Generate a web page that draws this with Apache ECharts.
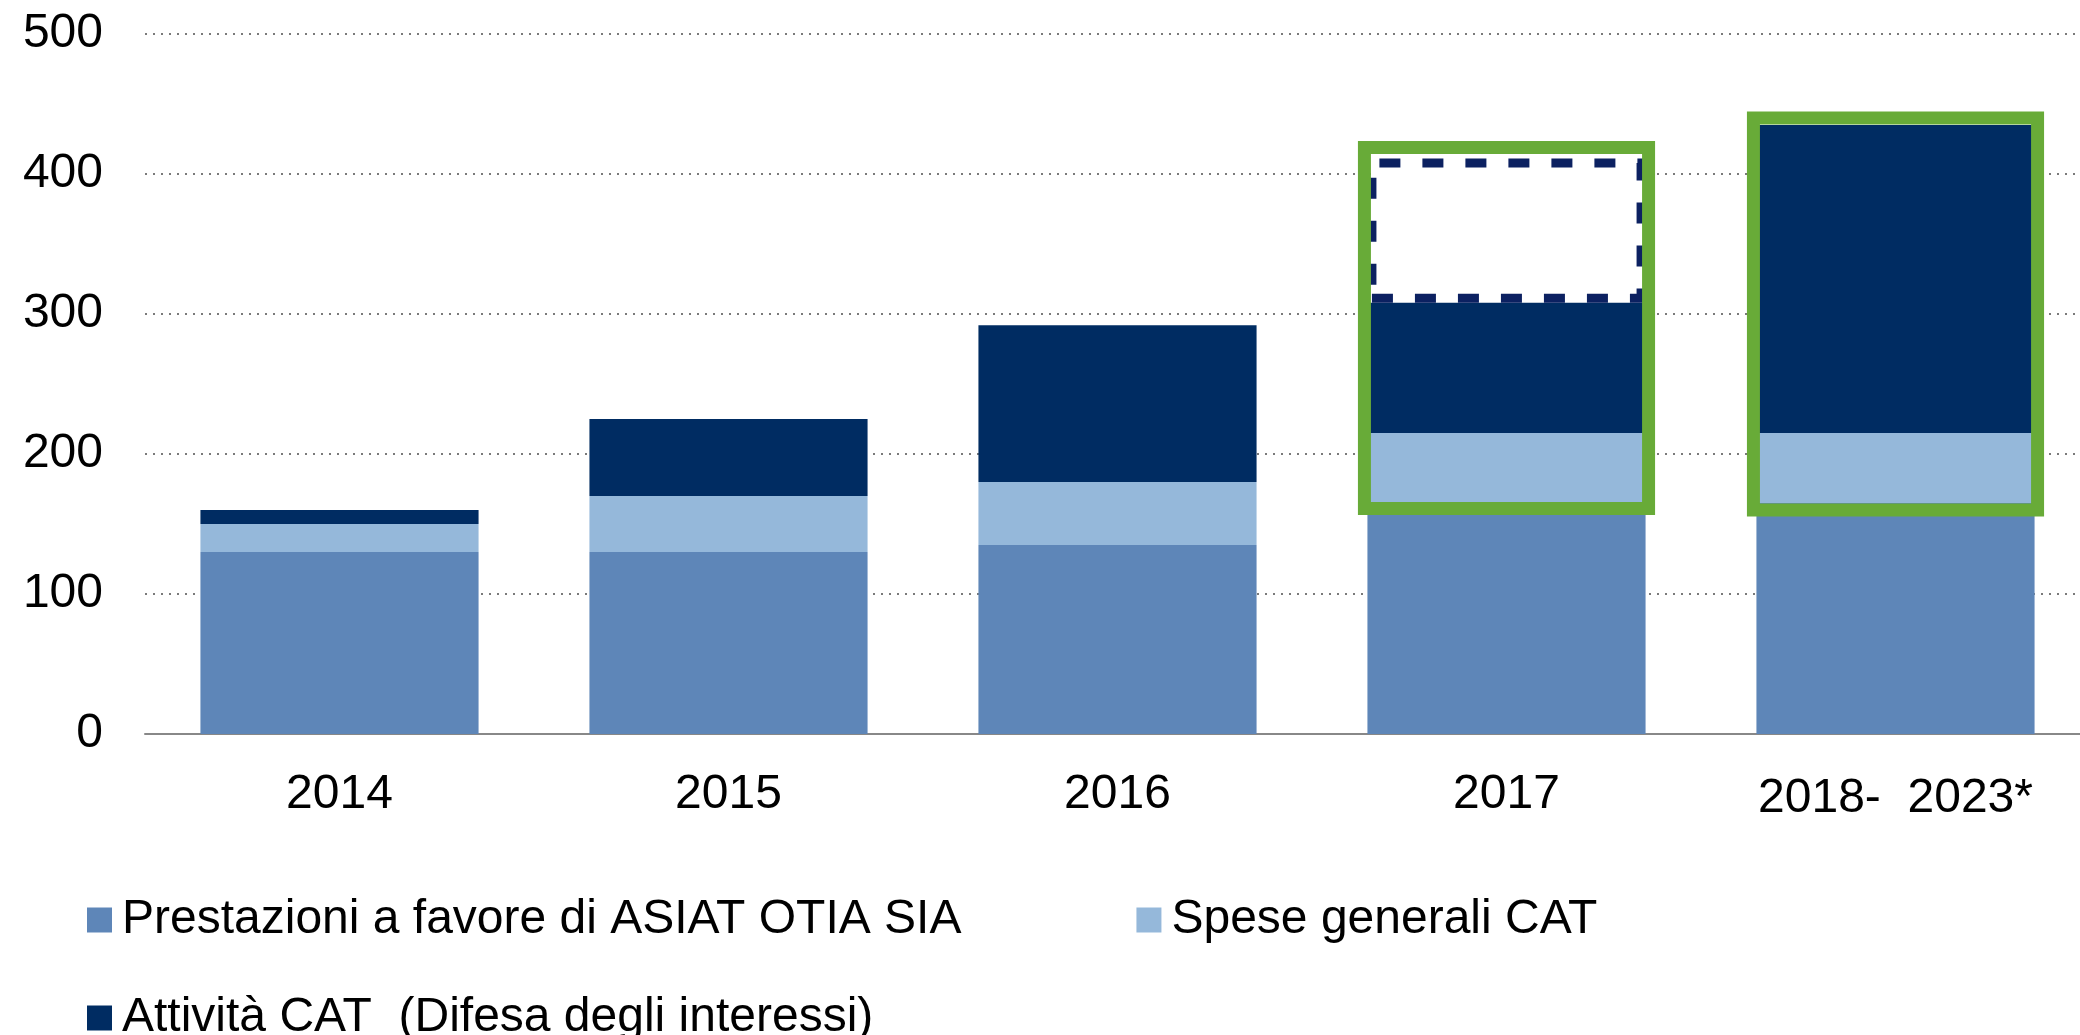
<!DOCTYPE html>
<html>
<head>
<meta charset="utf-8">
<title>CAT</title>
<script src="https://cdn.jsdelivr.net/npm/echarts@6/dist/echarts.min.js"></script>
<style>
  html, body { margin: 0; padding: 0; background: #fff; }
  #chart { width: 2080px; height: 1035px; }
</style>
</head>
<body>
<div id="chart"></div>
<script>
const categories = ['2014', '2015', '2016', '2017', '2018-  2023*']
const prestazioni = [130, 130, 135, 165, 165]
const speseGenerali = [20, 40, 45, 50, 50]
const attivita = [10, 55, 112, 93, 220]
// part of 2017 drawn as an empty dashed box on top of the stack
const attivitaPrevista = [null, null, null, 103, null]
// green highlight boxes: [category index, low value, high value]
const highlight = [[3, 161, 419], [4, 160, 440]]
const yTicks = [0, 100, 200, 300, 400, 500]

const seriesNames = [
  'Prestazioni a favore di ASIAT OTIA SIA',
  'Spese generali CAT',
  'Attività CAT  (Difesa degli interessi)'
]

const font = "'Liberation Sans', Arial, sans-serif"
const chart = echarts.init(document.getElementById('chart'))

const legendText = {
  fontSize: 48,
  fontFamily: font,
  color: '#000',
  lineHeight: 56,
  padding: [0, 0, 0, 5]
}

chart.setOption({
  animation: false,
  grid: {
    left: 145,
    top: 34,
    width: 1945,
    bottom: 301,
    outerBoundsMode: 'none'
  },
  legend: [{
    data: [seriesNames[0], seriesNames[1]],
    left: 82,
    top: 887,
    itemWidth: 25,
    itemHeight: 25,
    itemGap: 175,
    icon: 'rect',
    textStyle: legendText
  }, {
    data: [seriesNames[2]],
    left: 82,
    top: 985,
    itemWidth: 25,
    itemHeight: 25,
    icon: 'rect',
    textStyle: legendText
  }],
  xAxis: {
    type: 'category',
    data: categories,
    axisTick: { show: false },
    axisLine: { lineStyle: { color: '#888', width: 2 } },
    axisLabel: {
      fontSize: 48,
      fontFamily: font,
      color: '#000',
      margin: 37,
      interval: 0,
      formatter: function (value, idx) {
        return idx === categories.length - 1 ? '{low|' + value + '}' : value
      },
      rich: {
        low: { fontSize: 48, fontFamily: font, color: '#000', padding: [4, 0, 0, 0] }
      }
    }
  },
  yAxis: {
    type: 'value',
    min: yTicks[0],
    max: yTicks[yTicks.length - 1],
    interval: 100,
    axisLine: { show: false },
    axisTick: { show: false },
    axisLabel: {
      fontSize: 48,
      fontFamily: font,
      color: '#000',
      margin: 42
    },
    splitLine: {
      lineStyle: { color: '#7a7a7a', width: 2, type: [2, 6] }
    }
  },
  series: [{
    name: seriesNames[0],
    type: 'bar',
    stack: 'tot',
    barWidth: '71.5%',
    data: prestazioni,
    itemStyle: { color: '#5e86b8' }
  }, {
    name: seriesNames[1],
    type: 'bar',
    stack: 'tot',
    data: speseGenerali,
    itemStyle: { color: '#95b8da' }
  }, {
    name: seriesNames[2],
    type: 'bar',
    stack: 'tot',
    data: attivita,
    itemStyle: { color: '#002c62' }
  }, {
    name: 'prevista',
    type: 'bar',
    stack: 'tot',
    data: attivitaPrevista,
    itemStyle: {
      color: '#fff',
      borderColor: '#0c2161',
      borderWidth: 9,
      borderType: [21, 22]
    }
  }, {
    type: 'custom',
    z: 10,
    data: highlight,
    renderItem: function (params, api) {
      const lo = api.coord([api.value(0), api.value(1)])
      const hi = api.coord([api.value(0), api.value(2)])
      const w = api.size([1, 0])[0] * 0.715 + 6
      return {
        type: 'rect',
        shape: { x: lo[0] - w / 2, y: hi[1], width: w, height: lo[1] - hi[1] },
        style: { fill: null, stroke: '#68ab38', lineWidth: 13 }
      }
    }
  }]
})
</script>
</body>
</html>
